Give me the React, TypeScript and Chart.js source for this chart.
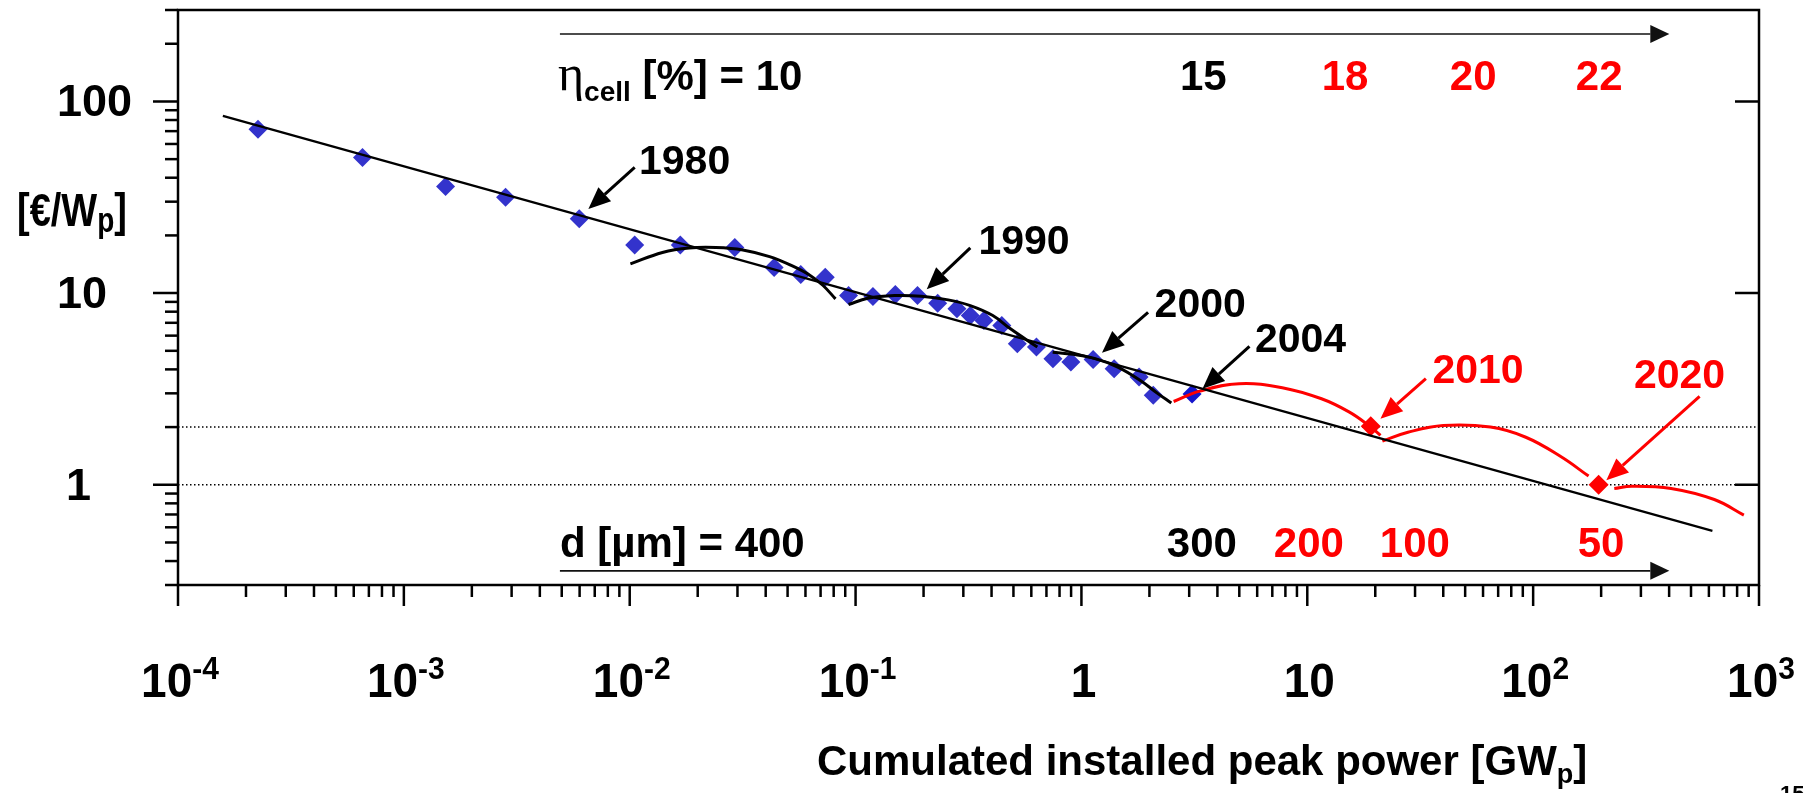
import React, { useEffect, useRef } from 'react';
import { Chart, registerables } from 'chart.js';

Chart.register(...registerables);

const W = 1816;
const H = 793;

// Historical module price vs cumulated installed peak power
const histPower = [2.26e-4, 6.56e-4, 1.53e-3, 2.82e-3, 5.98e-3, 0.01052, 0.01675, 0.0292, 0.0436, 0.0572, 0.0734, 0.0931, 0.1194, 0.150, 0.188, 0.231, 0.281, 0.322, 0.370, 0.444, 0.520, 0.632, 0.748, 0.898, 1.127, 1.396, 1.80, 2.08];
const histPrice = [71.7, 51.0, 36.0, 31.6, 24.4, 17.8, 17.8, 17.3, 13.6, 12.5, 12.1, 9.71, 9.60, 9.84, 9.71, 8.86, 8.28, 7.64, 7.19, 6.78, 5.44, 5.23, 4.55, 4.37, 4.50, 4.03, 3.65, 2.93];
const power2004 = [3.09];
const price2004 = [2.98];
const forecastPower = [19.1, 195];
const forecastPrice = [2.02, 1.0];

// Experience curve (straight line in log-log)
const trendPower = [1.58e-4, 622];
const trendPrice = [84.1, 0.575];

// Black technology-cycle arcs
const arcAPower = [0.01007, 0.01396, 0.01833, 0.0241, 0.0317, 0.0416, 0.0522, 0.0627, 0.0718, 0.0815];
const arcAPrice = [14.2, 16.3, 17.2, 17.3, 16.8, 15.5, 13.9, 12.4, 10.96, 9.33];
const arcBPower = [0.0931, 0.1133, 0.1487, 0.1954, 0.257, 0.322, 0.405, 0.485, 0.638];
const arcBPrice = [8.72, 9.40, 9.71, 9.63, 9.22, 8.61, 7.64, 6.51, 5.23];
const arcCPower = [0.746, 0.918, 1.152, 1.448, 1.817, 2.18, 2.50];
const arcCPrice = [4.92, 4.79, 4.55, 4.11, 3.51, 2.99, 2.67];

// Red forecast arcs
const redAPower = [2.56, 3.34, 4.99, 7.75, 11.56, 15.3, 18.7, 21.1];
const redAPrice = [2.72, 3.08, 3.37, 3.21, 2.81, 2.40, 2.04, 1.81];
const redBPower = [21.5, 27.9, 40.0, 64.7, 92.8, 133, 176];
const redBPrice = [1.69, 1.88, 2.04, 2.00, 1.77, 1.40, 1.11];
const redCPower = [228.7, 273.6, 408, 634, 857];
const redCPrice = [0.957, 0.983, 0.957, 0.838, 0.695];

// Reference (dotted) levels
const refLevels = [2, 1];

// Axes
const xMin = 1e-4;
const xMax = 1e3;
const yMin = 0.3;
const yMax = 300;
const xExponents = [-4, -3, -2, -1, 0, 1, 2, 3];
const yTickLabels = [100, 10, 1];

// Annotation texts
const efficiencyLabels = ['15', '18', '20', '22'];
const efficiencyRed = [false, true, true, true];
const thicknessLabels = ['300', '200', '100', '50'];
const thicknessRed = [false, true, true, true];
const yearLabels = ['1980', '1990', '2000', '2004', '2010', '2020'];
const yearRed = [false, false, false, false, true, true];

// Annotation anchors (log10 of data coordinates)
const efficiencyLogX = [0.436, 1.064, 1.631, 2.189];
const thicknessLogX = [0.378, 0.852, 1.321, 2.197];
const yearTextLog = [[-1.959, 1.623], [-0.456, 1.206], [0.324, 0.873], [0.768, 0.692], [1.554, 0.529], [2.446, 0.503]];
const yearArrowTail = [[-1.978, 1.656], [-0.492, 1.236], [0.295, 0.900], [0.744, 0.722], [1.525, 0.554], [2.737, 0.461]];
const yearArrowTip = [[-2.183, 1.439], [-0.685, 1.020], [0.091, 0.689], [0.536, 0.501], [1.324, 0.345], [2.324, 0.024]];
const rangeArrowLogX = [-2.309, 2.603];
const topArrowLogY = 2.352;
const bottomArrowLogY = -0.449;
const topRowLogY = 2.060;
const bottomRowLogY = -0.377;

const SANS = "'Liberation Sans', Arial, Helvetica, sans-serif";
const SERIF = "'Liberation Serif', 'Times New Roman', serif";
const RED = '#FF0000';
const BLUE = '#3333CC';

const pts = (xs: number[], ys: number[]) => xs.map((x, i) => ({ x, y: ys[i] }));

type Part = { t: string; font: string; dy?: number; color?: string };

function drawRich(ctx: CanvasRenderingContext2D, parts: Part[], x: number, y: number, align: 'left' | 'center' | 'right', color: string, sy = 1) {
  const widths = parts.map((p) => {
    ctx.font = p.font;
    return ctx.measureText(p.t).width;
  });
  const total = widths.reduce((a, b) => a + b, 0);
  let cx = align === 'left' ? x : align === 'center' ? x - total / 2 : x - total;
  ctx.save();
  ctx.translate(0, y);
  ctx.scale(1, sy);
  ctx.textAlign = 'left';
  ctx.textBaseline = 'alphabetic';
  parts.forEach((p, i) => {
    ctx.font = p.font;
    ctx.fillStyle = p.color || color;
    ctx.fillText(p.t, cx, (p.dy || 0) / sy);
    cx += widths[i];
  });
  ctx.restore();
}

function drawArrow(ctx: CanvasRenderingContext2D, x1: number, y1: number, x2: number, y2: number, color: string, lw: number, headLen: number, headW: number) {
  const ang = Math.atan2(y2 - y1, x2 - x1);
  const bx = x2 - headLen * Math.cos(ang);
  const by = y2 - headLen * Math.sin(ang);
  ctx.strokeStyle = color;
  ctx.lineWidth = lw;
  ctx.lineCap = 'butt';
  ctx.beginPath();
  ctx.moveTo(x1, y1);
  ctx.lineTo(bx, by);
  ctx.stroke();
  ctx.fillStyle = color;
  ctx.beginPath();
  ctx.moveTo(x2, y2);
  ctx.lineTo(bx + (headW / 2) * Math.sin(ang), by - (headW / 2) * Math.cos(ang));
  ctx.lineTo(bx - (headW / 2) * Math.sin(ang), by + (headW / 2) * Math.cos(ang));
  ctx.closePath();
  ctx.fill();
}

const decorations = {
  id: 'decorations',
  afterDraw(chart: any) {
    const ctx: CanvasRenderingContext2D = chart.ctx;
    const xs = chart.scales.x;
    const ys = chart.scales.y;
    const { left, right, top, bottom } = chart.chartArea;
    const px = (lx: number) => xs.getPixelForValue(Math.pow(10, lx));
    const py = (ly: number) => ys.getPixelForValue(Math.pow(10, ly));
    ctx.save();

    // frame
    ctx.strokeStyle = '#000';
    ctx.lineWidth = 2.5;
    ctx.strokeRect(left, top, right - left, bottom - top);

    // y ticks
    ctx.lineWidth = 2.5;
    for (let d = -1; d <= 2; d++) {
      for (let m = 1; m <= 9; m++) {
        const v = m * Math.pow(10, d);
        if (v < yMin * 0.999 || v > yMax * 1.001) continue;
        const y = ys.getPixelForValue(v);
        ctx.beginPath();
        if (m === 1) {
          ctx.moveTo(left - 25, y);
          ctx.lineTo(left, y);
          ctx.moveTo(right - 24, y);
          ctx.lineTo(right, y);
        } else {
          ctx.moveTo(left - 13, y);
          ctx.lineTo(left, y);
        }
        ctx.stroke();
      }
    }
    // x ticks
    for (let d = -4; d <= 3; d++) {
      for (let m = 1; m <= 9; m++) {
        const v = m * Math.pow(10, d);
        if (v > xMax * 1.001) continue;
        const x = xs.getPixelForValue(v);
        ctx.beginPath();
        ctx.moveTo(x, bottom);
        ctx.lineTo(x, bottom + (m === 1 ? 21 : 12));
        ctx.stroke();
      }
    }

    // y tick labels
    ctx.fillStyle = '#000';
    ctx.font = `bold 45px ${SANS}`;
    ctx.textAlign = 'left';
    ctx.textBaseline = 'alphabetic';
    yTickLabels.forEach((v) => {
      const s = String(v);
      ctx.fillText(s, s.length === 1 ? 66 : 57, ys.getPixelForValue(v) + 15);
    });

    // x tick labels
    xExponents.forEach((e) => {
      const x = xs.getPixelForValue(Math.pow(10, e));
      const parts: Part[] = [];
      if (e === 0) parts.push({ t: '1', font: `bold 46px ${SANS}` });
      else if (e === 1) parts.push({ t: '10', font: `bold 46px ${SANS}` });
      else {
        parts.push({ t: '10', font: `bold 46px ${SANS}` });
        parts.push({ t: e < 0 ? `-${-e}` : String(e), font: `bold 30px ${SANS}`, dy: -18 });
      }
      drawRich(ctx, parts, x + 2, bottom + 112, 'center', '#000', 1.05);
    });

    // axis titles
    drawRich(ctx, [
      { t: 'Cumulated installed peak power [GW', font: `bold 42px ${SANS}` },
      { t: 'p', font: `bold 27px ${SANS}`, dy: 8 },
      { t: ']', font: `bold 42px ${SANS}` },
    ], 817, 775, 'left', '#000');
    drawRich(ctx, [
      { t: '[€/W', font: `bold 38px ${SANS}` },
      { t: 'p', font: `bold 28px ${SANS}`, dy: 6 },
      { t: ']', font: `bold 38px ${SANS}` },
    ], 17, 226, 'left', '#000', 1.22);

    // range arrows
    drawArrow(ctx, px(rangeArrowLogX[0]), py(topArrowLogY), px(rangeArrowLogX[1]), py(topArrowLogY), '#111', 1.6, 19, 18);
    drawArrow(ctx, px(rangeArrowLogX[0]), py(bottomArrowLogY), px(rangeArrowLogX[1]), py(bottomArrowLogY), '#111', 1.6, 19, 18);

    // efficiency row
    const tY = py(topRowLogY);
    drawRich(ctx, [
      { t: 'η', font: `50px ${SERIF}` },
      { t: 'cell', font: `bold 28px ${SANS}`, dy: 11 },
      { t: ' [%] = 10', font: `bold 42px ${SANS}` },
    ], px(rangeArrowLogX[0]) - 2, tY, 'left', '#000');
    efficiencyLabels.forEach((s, i) => {
      drawRich(ctx, [{ t: s, font: `bold 42px ${SANS}` }], px(efficiencyLogX[i]), tY, 'left', efficiencyRed[i] ? RED : '#000');
    });

    // thickness row
    const bY = py(bottomRowLogY);
    drawRich(ctx, [{ t: 'd [µm] = 400', font: `bold 42px ${SANS}` }], px(rangeArrowLogX[0]), bY, 'left', '#000');
    thicknessLabels.forEach((s, i) => {
      drawRich(ctx, [{ t: s, font: `bold 42px ${SANS}` }], px(thicknessLogX[i]), bY, 'left', thicknessRed[i] ? RED : '#000');
    });

    // year annotations
    yearLabels.forEach((s, i) => {
      const c = yearRed[i] ? RED : '#000';
      const [tx, ty] = yearTextLog[i];
      drawRich(ctx, [{ t: s, font: `bold 41px ${SANS}` }], px(tx), py(ty), 'left', c);
      const [ax, ay] = yearArrowTail[i];
      const [bx, by] = yearArrowTip[i];
      drawArrow(ctx, px(ax), py(ay), px(bx), py(by), c, 3, 22, 19);
    });

    // page number (cut off at bottom edge)
    ctx.font = `bold 22px ${SANS}`;
    ctx.fillStyle = '#000';
    ctx.textAlign = 'left';
    ctx.textBaseline = 'alphabetic';
    ctx.fillText('15', 1780, 801);

    ctx.restore();
  },
};

export default function App() {
  const ref = useRef<HTMLCanvasElement | null>(null);

  useEffect(() => {
    if (!ref.current) return;
    const lineDs = (data: any[], color: string, width: number, tension: number) => ({
      data,
      showLine: true,
      borderColor: color,
      backgroundColor: color,
      borderWidth: width,
      pointRadius: 0,
      tension,
      fill: false,
    });
    const chart = new Chart(ref.current, {
      type: 'scatter',
      data: {
        datasets: [
          lineDs(pts(trendPower, trendPrice), '#000', 2.2, 0),
          lineDs(pts(arcAPower, arcAPrice), '#000', 3, 0.4),
          lineDs(pts(arcBPower, arcBPrice), '#000', 3, 0.4),
          lineDs(pts(arcCPower, arcCPrice), '#000', 3, 0.4),
          lineDs(pts(redAPower, redAPrice), RED, 3, 0.4),
          lineDs(pts(redBPower, redBPrice), RED, 3, 0.4),
          lineDs(pts(redCPower, redCPrice), RED, 3, 0.4),
          {
            data: pts(forecastPower, forecastPrice),
            pointStyle: 'rectRot',
            pointRadius: 10,
            backgroundColor: RED,
            borderColor: RED,
            borderWidth: 0,
          },
          {
            data: pts(power2004, price2004),
            pointStyle: 'rectRot',
            pointRadius: 9.5,
            backgroundColor: '#1515CC',
            borderColor: '#1515CC',
            borderWidth: 0,
          },
          {
            data: pts(histPower, histPrice),
            pointStyle: 'rectRot',
            pointRadius: 9.5,
            backgroundColor: BLUE,
            borderColor: BLUE,
            borderWidth: 0,
          },
          ...refLevels.map((lv) => ({
            data: [{ x: xMin, y: lv }, { x: xMax, y: lv }],
            showLine: true,
            borderColor: '#000',
            borderWidth: 1.5,
            borderDash: [1.5, 2.5],
            pointRadius: 0,
            fill: false,
          })),
        ],
      } as any,
      options: {
        animation: false,
        responsive: false,
        maintainAspectRatio: false,
        events: [],
        layout: { padding: { left: 0, top: 9, right: 57, bottom: 0 } },
        plugins: { legend: { display: false }, tooltip: { enabled: false } },
        scales: {
          x: {
            type: 'logarithmic',
            min: xMin,
            max: xMax,
            ticks: { display: false },
            grid: { display: false },
            border: { display: false },
            afterFit: (s: any) => { s.height = 208; },
          },
          y: {
            type: 'logarithmic',
            min: yMin,
            max: yMax,
            ticks: { display: false },
            grid: { display: false },
            border: { display: false },
            afterFit: (s: any) => { s.width = 178; },
          },
        },
      } as any,
      plugins: [decorations],
    });
    return () => chart.destroy();
  }, []);

  return (
    <div style={{ position: 'fixed', left: 0, top: 0, width: W, height: H, background: '#fff' }}>
      <canvas ref={ref} width={W} height={H} style={{ width: W, height: H, display: 'block' }} />
    </div>
  );
}
